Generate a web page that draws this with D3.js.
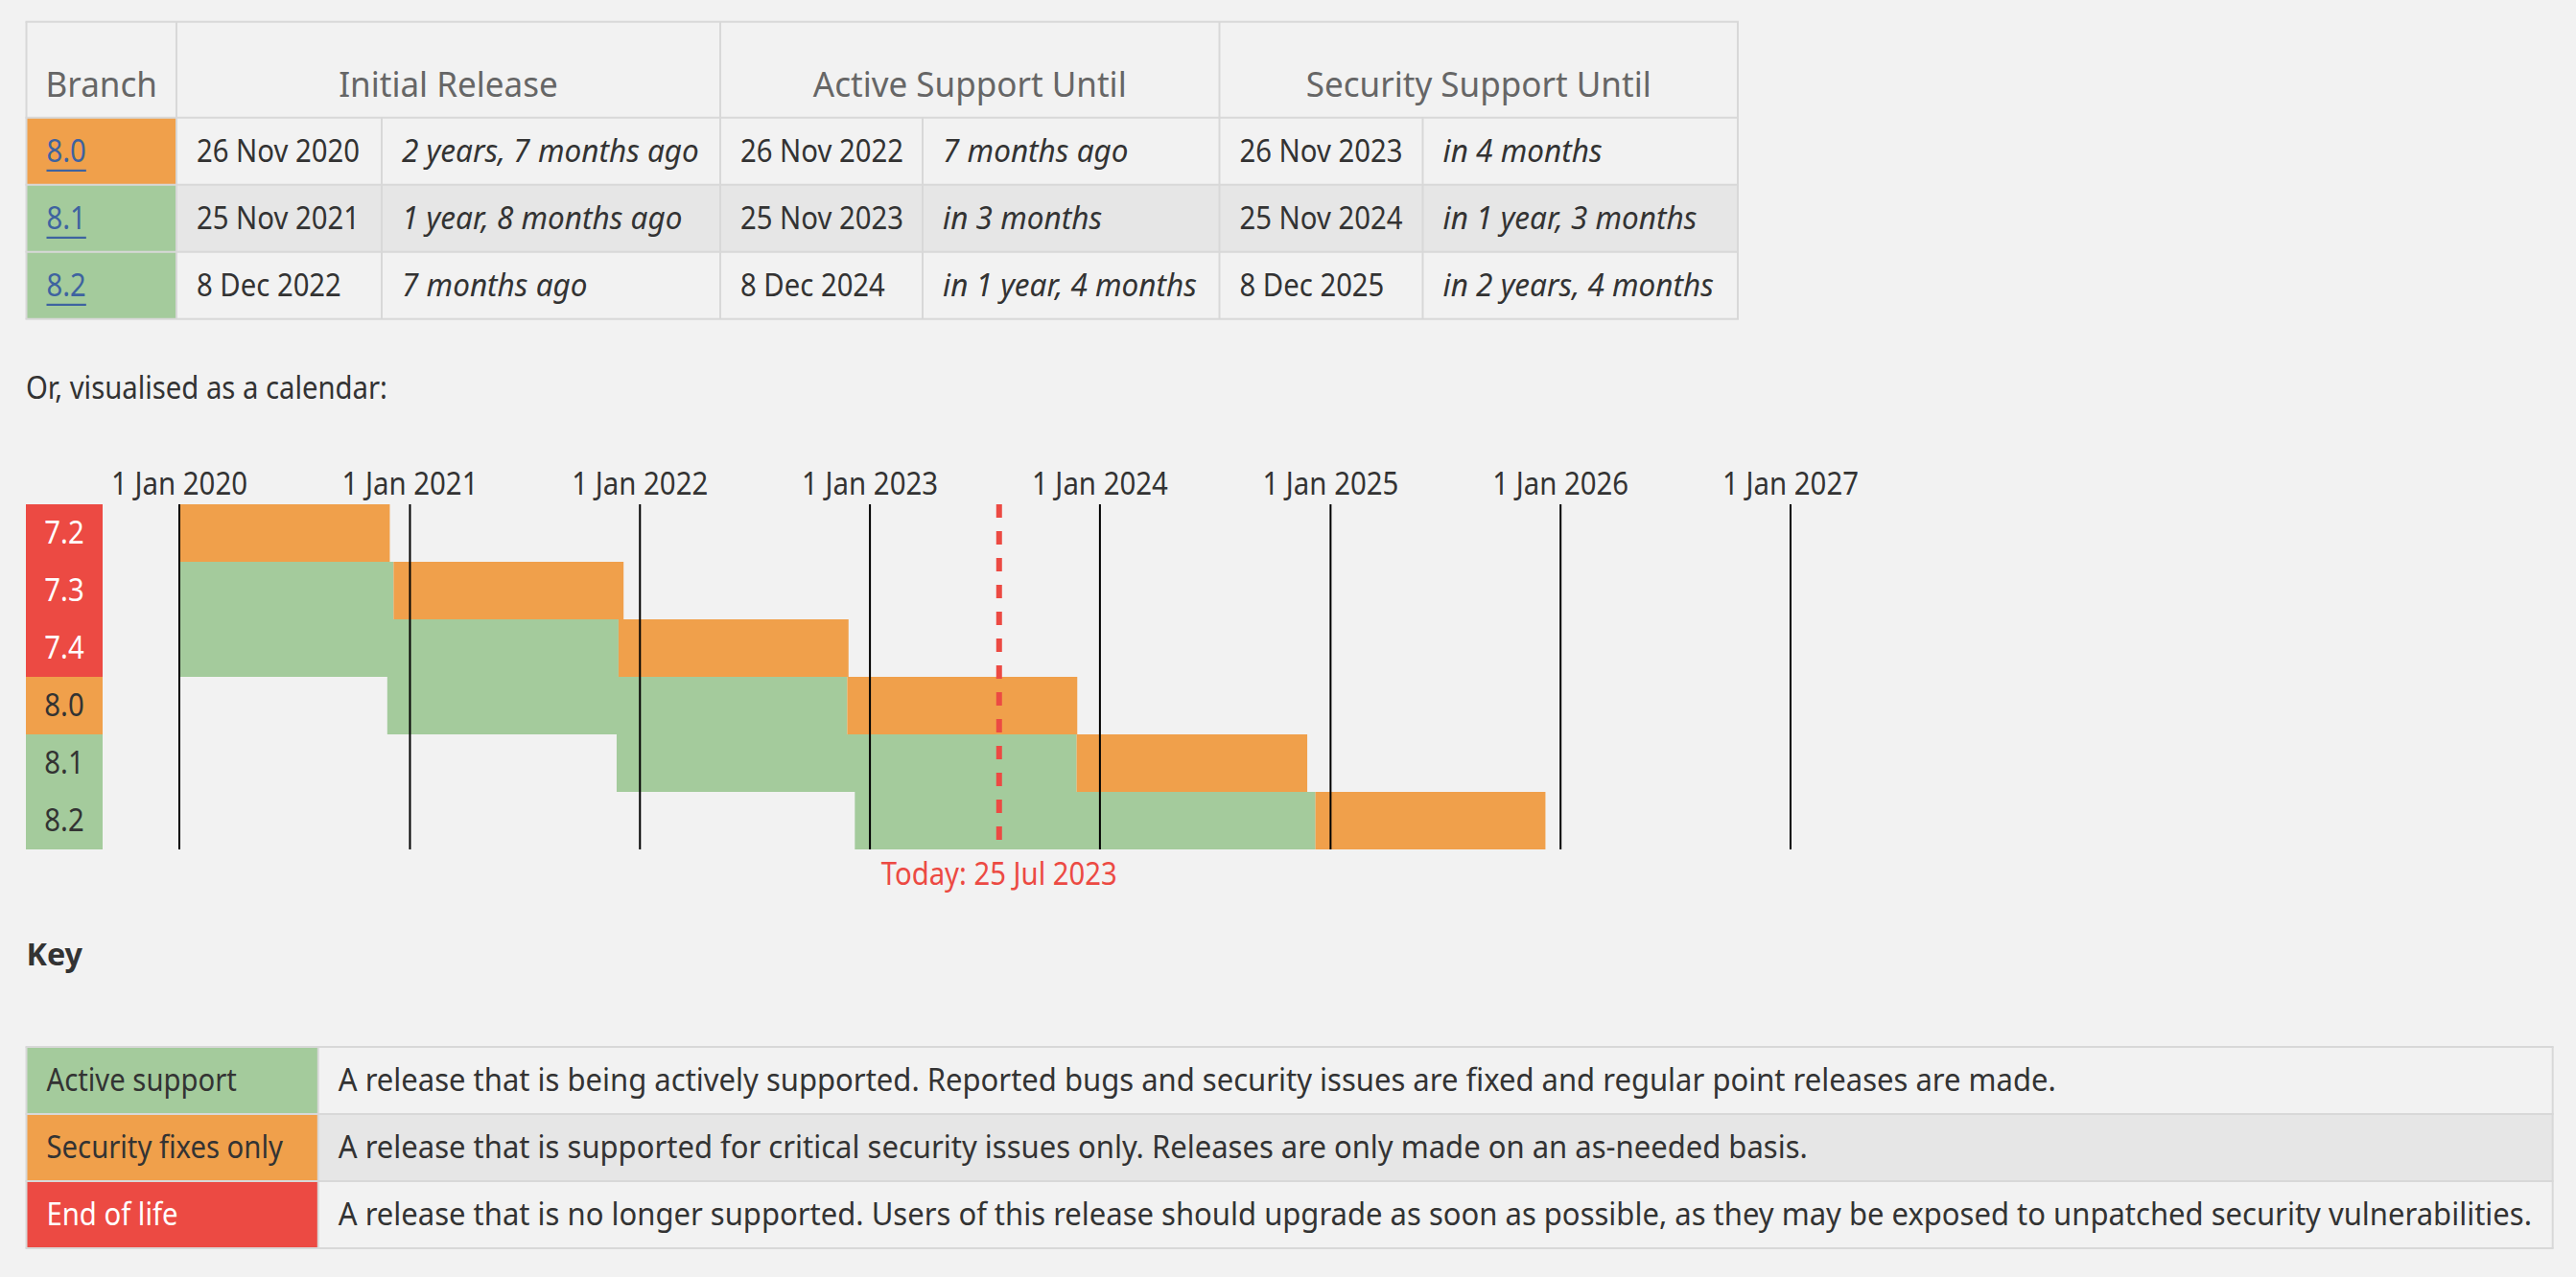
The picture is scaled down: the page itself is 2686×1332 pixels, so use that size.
<!DOCTYPE html>
<html><head><meta charset="utf-8">
<script src="https://cdn.jsdelivr.net/npm/d3@7"></script>
<style>
html,body{margin:0;padding:0;background:#f2f2f2;overflow:hidden}
svg{display:block}
text{font-family:"Noto Sans","Open Sans",sans-serif;}
</style></head><body>
<svg id="c" width="2686" height="1332"></svg>
<script>
// ---------- data ----------
const branches       = ["7.2","7.3","7.4","8.0","8.1","8.2"];
const releaseDates   = ["2017-11-30","2018-12-06","2019-11-28","2020-11-26","2021-11-25","2022-12-08"];
const activeUntil    = ["2019-11-30","2020-12-06","2021-11-28","2022-11-26","2023-11-25","2024-12-08"];
const securityUntil  = ["2020-11-30","2021-12-06","2022-11-28","2023-11-26","2024-11-25","2025-12-08"];
const branchStatus   = ["eol","eol","eol","security","stable","stable"];
const todayDate      = "2023-07-25";
const axisTicks      = ["2020-01-01","2021-01-01","2022-01-01","2023-01-01","2024-01-01","2025-01-01","2026-01-01","2027-01-01"];

const tableBranches  = ["8.0","8.1","8.2"];
const tableStatus    = ["security","stable","stable"];
const initialRelease = ["26 Nov 2020","25 Nov 2021","8 Dec 2022"];
const initialAgo     = ["2 years, 7 months ago","1 year, 8 months ago","7 months ago"];
const activeDate     = ["26 Nov 2022","25 Nov 2023","8 Dec 2024"];
const activeRel      = ["7 months ago","in 3 months","in 1 year, 4 months"];
const securityDate   = ["26 Nov 2023","25 Nov 2024","8 Dec 2025"];
const securityRel    = ["in 4 months","in 1 year, 3 months","in 2 years, 4 months"];
const tableHeaders   = ["Branch","Initial Release","Active Support Until","Security Support Until"];

const keyLabels      = ["Active support","Security fixes only","End of life"];
const keyStatus      = ["stable","security","eol"];
const keyDescriptions = [
  "A release that is being actively supported. Reported bugs and security issues are fixed and regular point releases are made.",
  "A release that is supported for critical security issues only. Releases are only made on an as-needed basis.",
  "A release that is no longer supported. Users of this release should upgrade as soon as possible, as they may be exposed to unpatched security vulnerabilities."
];

// ---------- style ----------
const colors = {stable:"#a4cb9c", security:"#f0a04b", eol:"#ec4a43"};
const labelFill = {stable:"#333", security:"#333", eol:"#fff"};
const BG="#f2f2f2", ALT="#e6e6e6", BORDER="#d8d8d8", TEXT="#333", HEAD="#666", LINK="#3e63a0", TODAY="#ec4a43";

const svg = d3.select("#c");
svg.append("rect").attr("width",2686).attr("height",1332).attr("fill",BG);

function calib(str, target, size, weight, style){
  const t = svg.append("text").attr("font-size",size).attr("font-weight",weight||400)
    .attr("font-style",style||"normal").text(str);
  const w = t.node().getComputedTextLength();
  t.remove();
  return target / w;
}
const S = {
  body:   {size:32, sx:calib("26 Nov 2020",170,32)},
  ital:   {size:32, style:"italic", sx:calib("2 years, 7 months ago",310,32,400,"italic")},
  head:   {size:36, sx:calib("Security Support Until",360,36)},
  tick:   {size:32, sx:calib("1 Jan 2020",142,32)},
  keyH:   {size:33, weight:700, sx:calib("Key",58.5,33,700)},
  desc:   {size:32, sx:calib(keyDescriptions[2],2288,32)}
};
function T(g, str, x, y, st, fill, anchor){
  return g.append("text")
    .attr("transform",`translate(${x},${y}) scale(${st.sx},1)`)
    .attr("text-anchor",anchor||"start")
    .attr("font-size",st.size)
    .attr("font-weight",st.weight||400)
    .attr("font-style",st.style||"normal")
    .attr("fill",fill||TEXT)
    .text(str);
}
function hline(g,x1,x2,y){g.append("line").attr("x1",x1).attr("x2",x2).attr("y1",y).attr("y2",y).attr("stroke",BORDER).attr("stroke-width",2);}
function vline(g,x,y1,y2){g.append("line").attr("x1",x).attr("x2",x).attr("y1",y1).attr("y2",y2).attr("stroke",BORDER).attr("stroke-width",2);}

// ---------- top table ----------
const tbl = svg.append("g");
const colX = [27.5,184,398,751,962,1271.5,1483.5,1812];
const headTop = 22.7, headBot = 122.7, rowH = 70;
const rowY = d3.range(tableBranches.length+1).map(i=>headBot+i*rowH);
tableBranches.forEach((b,i)=>{
  tbl.append("rect").attr("x",colX[0]).attr("y",rowY[i]).attr("width",colX[7]-colX[0]).attr("height",rowH)
    .attr("fill", i%2===1?ALT:BG);
  tbl.append("rect").attr("x",colX[0]).attr("y",rowY[i]).attr("width",colX[1]-colX[0]).attr("height",rowH)
    .attr("fill",colors[tableStatus[i]]);
});
// borders
hline(tbl,colX[0]-1,colX[7]+1,headTop);
rowY.forEach(y=>hline(tbl,colX[0]-1,colX[7]+1,y));
[0,1,3,5,7].forEach(c=>vline(tbl,colX[c],headTop,rowY[rowY.length-1]));
[2,4,6].forEach(c=>vline(tbl,colX[c],headBot,rowY[rowY.length-1]));
// headers
const headSpans=[[0,1],[1,3],[3,5],[5,7]];
tableHeaders.forEach((h,i)=>{
  const cx=(colX[headSpans[i][0]]+colX[headSpans[i][1]])/2;
  T(tbl,h,cx,100.5,S.head,HEAD,"middle");
});
// body
const pad = 21;
tableBranches.forEach((b,i)=>{
  const by = rowY[i]+46.6;
  const lt = T(tbl,b,colX[0]+pad,by,S.body,LINK);
  const lw = lt.node().getComputedTextLength()*S.body.sx;
  tbl.append("rect").attr("x",colX[0]+pad).attr("y",by+7.5).attr("width",lw).attr("height",2.2).attr("fill",LINK);
  T(tbl,initialRelease[i],colX[1]+pad,by,S.body);
  T(tbl,initialAgo[i],colX[2]+pad,by,S.ital);
  T(tbl,activeDate[i],colX[3]+pad,by,S.body);
  T(tbl,activeRel[i],colX[4]+pad,by,S.ital);
  T(tbl,securityDate[i],colX[5]+pad,by,S.body);
  T(tbl,securityRel[i],colX[6]+pad,by,S.ital);
});

// ---------- intro ----------
T(svg,"Or, visualised as a calendar:",27,416,S.body);

// ---------- calendar chart ----------
const parse = d3.utcParse("%Y-%m-%d");
const fmt = d3.utcFormat("%-d %b %Y");
const ticks = axisTicks.map(parse);
const x = d3.scaleUtc().domain([ticks[0],ticks[ticks.length-1]]).range([187,1867]);
const y = d3.scaleBand().domain(branches).range([526,886]);
const ch = svg.append("g");
const start = ticks[0];
const maxD = (a,b)=> a>b?a:b;

const bars=[];
branches.forEach((b,i)=>{
  const r=parse(releaseDates[i]), a=parse(activeUntil[i]), s=parse(securityUntil[i]);
  if(a>start) bars.push({b, t:"stable", x0:maxD(r,start), x1:a});
  if(s>start) bars.push({b, t:"security", x0:maxD(a,start), x1:s});
});
ch.selectAll("rect.bar").data(bars).join("rect").attr("class","bar")
  .attr("x",d=>x(d.x0)).attr("width",d=>x(d.x1)-x(d.x0))
  .attr("y",d=>y(d.b)).attr("height",y.bandwidth())
  .attr("fill",d=>colors[d.t]);

// branch labels
ch.selectAll("rect.lab").data(branches).join("rect").attr("class","lab")
  .attr("x",27).attr("width",80).attr("y",d=>y(d)).attr("height",y.bandwidth())
  .attr("fill",(d,i)=>colors[branchStatus[i]]);
branches.forEach((b,i)=>{
  T(ch,b,67,y(b)+y.bandwidth()/2+11,S.body,labelFill[branchStatus[i]],"middle");
});

// grid lines + tick labels
ch.selectAll("line.grid").data(ticks).join("line").attr("class","grid")
  .attr("x1",d=>x(d)).attr("x2",d=>x(d)).attr("y1",y.range()[0]).attr("y2",y.range()[1])
  .attr("stroke","#000").attr("stroke-width",2);
ticks.forEach(d=>T(ch,fmt(d),x(d),515.5,S.tick,TEXT,"middle"));

// today
const td = parse(todayDate);
ch.append("line").attr("x1",x(td)).attr("x2",x(td)).attr("y1",y.range()[0]).attr("y2",y.range()[1])
  .attr("stroke",TODAY).attr("stroke-width",6).attr("stroke-dasharray","14,14");
T(ch,"Today: "+fmt(td),x(td),923,S.body,TODAY,"middle");

// ---------- key ----------
T(svg,"Key",27.5,1006.5,S.keyH,TEXT);
const kg = svg.append("g");
const kX=[27.5,331.8,2661.7], kTop=1092;
const kY = d3.range(keyLabels.length+1).map(i=>kTop+i*rowH);
keyLabels.forEach((k,i)=>{
  kg.append("rect").attr("x",kX[0]).attr("y",kY[i]).attr("width",kX[2]-kX[0]).attr("height",rowH).attr("fill",i%2===1?ALT:BG);
  kg.append("rect").attr("x",kX[0]).attr("y",kY[i]).attr("width",kX[1]-kX[0]).attr("height",rowH).attr("fill",colors[keyStatus[i]]);
});
kY.forEach(yy=>hline(kg,kX[0]-1,kX[2]+1,yy));
kX.forEach(xx=>vline(kg,xx,kTop,kY[kY.length-1]));
keyLabels.forEach((k,i)=>{
  const by=kY[i]+45.5;
  T(kg,k,kX[0]+pad,by,S.body,labelFill[keyStatus[i]]);
  T(kg,keyDescriptions[i],kX[1]+pad,by,S.desc,TEXT);
});
</script></body></html>
